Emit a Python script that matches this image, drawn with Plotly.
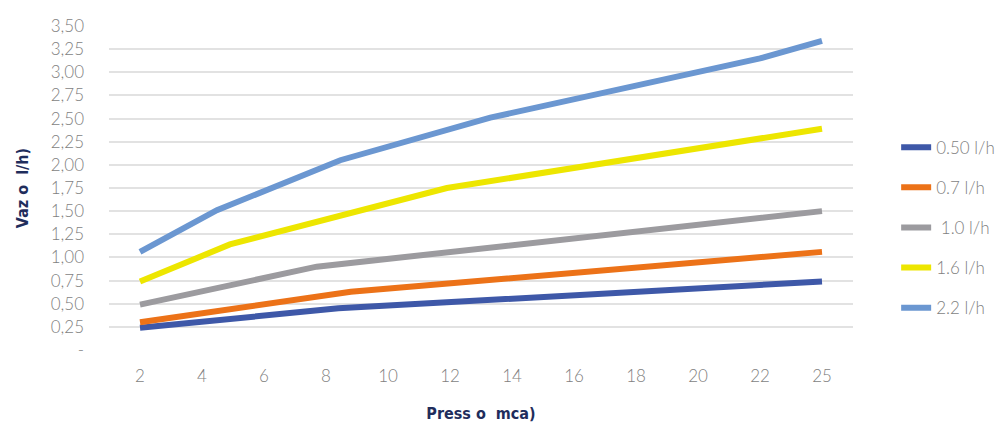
import plotly.graph_objects as go

# Category axis labels (pressure, mca)
pressure_labels = ["2", "4", "6", "8", "10", "12", "14", "16", "18", "20", "22", "25"]

# Series: positions along the category axis (0 = "2", 11 = "25") and flow values
s050_pos = [0, 3.2, 11]
s050_val = [0.24, 0.45, 0.74]

s07_pos = [0, 3.4, 11]
s07_val = [0.30, 0.63, 1.06]

s10_pos = [0, 2.85, 11]
s10_val = [0.49, 0.90, 1.50]

s16_pos = [0, 1.45, 4.95, 10.05, 11]
s16_val = [0.74, 1.14, 1.75, 2.28, 2.39]

s22_pos = [0, 1.24, 3.23, 5.65, 10.0, 11]
s22_val = [1.06, 1.51, 2.05, 2.51, 3.15, 3.34]

series_names = ["0.50 l/h", "0.7 l/h", " 1.0 l/h", "1.6 l/h", "2.2 l/h"]
series_colors = ["#3e58a8", "#ec7218", "#9c9b9f", "#ede600", "#6b97d1"]

y_ticks = [0, 0.25, 0.5, 0.75, 1.0, 1.25, 1.5, 1.75, 2.0, 2.25, 2.5, 2.75, 3.0, 3.25, 3.5]
y_ticktext = ["-"] + [f"{v:.2f}".replace(".", ",") for v in y_ticks[1:]]

fig = go.Figure()
data = [(s050_pos, s050_val), (s07_pos, s07_val), (s10_pos, s10_val),
        (s16_pos, s16_val), (s22_pos, s22_val)]
for (xs, ys), name, color in zip(data, series_names, series_colors):
    fig.add_trace(go.Scatter(
        x=xs, y=ys, mode="lines", name=name, legendgroup=name,
        line=dict(color=color, width=6),
    ))

tick_font = dict(family="Lato, Roboto, sans-serif", size=17, color="#7f7f7f", weight=300)
title_font = dict(family="DejaVu Sans Condensed, Liberation Sans Narrow, sans-serif",
                  size=16, color="#1f2d5c", weight="bold")

# The page body adds an 8px offset, so the figure is sized to fit the window.
fig.update_layout(
    width=999, height=415,
    margin=dict(l=101, r=154, t=18, b=73, autoexpand=False),
    paper_bgcolor="white", plot_bgcolor="white",
    showlegend=True,
    legend=dict(
        x=1.058, y=0.68, xanchor="left", yanchor="top",
        font=dict(family="Lato, Roboto, sans-serif", size=17, color="#7f7f7f", weight=300),
        tracegroupgap=15, bgcolor="rgba(0,0,0,0)",
    ),
    xaxis=dict(
        range=[-0.5, 11.5], automargin=False,
        tickmode="array", tickvals=list(range(len(pressure_labels))), ticktext=pressure_labels,
        showgrid=False, zeroline=False, showline=False,
        tickfont=tick_font, ticklabelstandoff=14,
        title=dict(text="Press o  mca)", font=title_font, standoff=22),
    ),
    yaxis=dict(
        range=[0, 3.5], automargin=False,
        tickmode="array", tickvals=y_ticks, ticktext=y_ticktext,
        showgrid=True, gridcolor="#e2e2e2", gridwidth=2,
        zeroline=False, showline=False,
        tickfont=tick_font, ticklabelstandoff=24,
        title=dict(text="Vaz o  l/h)", font=title_font, standoff=18),
    ),
)

fig.write_html("out.html")
